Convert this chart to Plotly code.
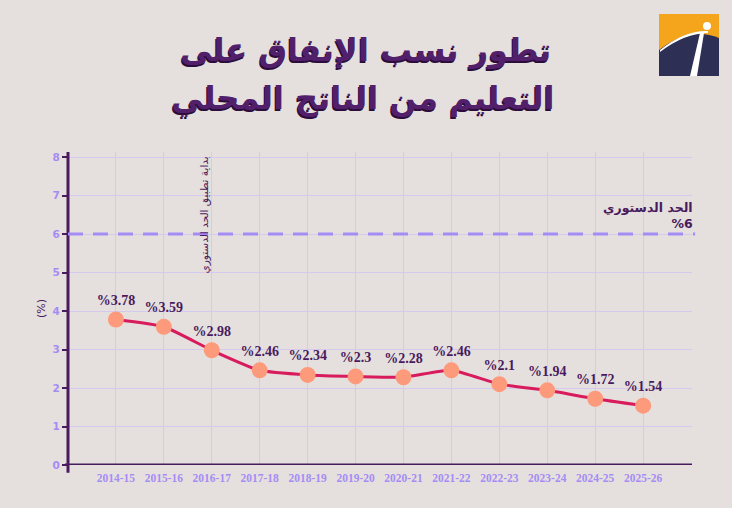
import plotly.graph_objects as go

years = ["2014-15", "2015-16", "2016-17", "2017-18", "2018-19", "2019-20",
         "2020-21", "2021-22", "2022-23", "2023-24", "2024-25", "2025-26"]
share = [3.78, 3.59, 2.98, 2.46, 2.34, 2.3, 2.28, 2.46, 2.1, 1.94, 1.72, 1.54]
limit_value = 6
y_ticks = [0, 1, 2, 3, 4, 5, 6, 7, 8]

title_line1 = "تطور نسب الإنفاق على"
title_line2 = "التعليم من الناتج المحلي"
limit_text = "الحد الدستوري<br>%6"
start_text = "بداية تطبيق الحد الدستوري"

BG = "#e5e0dd"
DARK = "#4a1a5e"
LAV = "#a58cf5"
GRID = "#d6c9f0"

labels = ["%" + ("%g" % v) for v in share]
idx = list(range(len(years)))

fig = go.Figure()
fig.add_trace(go.Scatter(
    x=idx, y=share, mode="lines+markers+text",
    line=dict(color="#d81b5c", width=3, shape="spline", smoothing=0.5),
    marker=dict(color="#fd9a7b", size=16),
    text=labels, textposition="top center",
    textfont=dict(family="Liberation Serif", size=14, color=DARK, weight="bold"),
    cliponaxis=False, hoverinfo="skip", showlegend=False,
))

fig.update_layout(
    width=732, height=508,
    paper_bgcolor=BG, plot_bgcolor=BG,
    margin=dict(l=68, r=40, t=152, b=43),
    font=dict(family="DejaVu Sans", color=DARK),
    xaxis=dict(
        range=[-1, 12.02], tickmode="array", tickvals=idx, ticktext=years,
        showgrid=True, gridcolor=GRID, gridwidth=1, zeroline=False,
        showline=False, ticks="", ticklabelstandoff=4,
        tickfont=dict(family="Liberation Serif", size=11.5, color=LAV, weight="bold"),
    ),
    yaxis=dict(
        range=[0, 8.13], tickmode="array", tickvals=y_ticks,
        showgrid=True, gridcolor=GRID, gridwidth=1, zeroline=False,
        showline=False, ticks="outside", ticklen=5, tickcolor=DARK, tickwidth=2,
        tickfont=dict(family="DejaVu Sans", size=10.5, color=LAV, weight="bold"),
        title=dict(text="(%)", font=dict(size=11, color=DARK), standoff=4),
    ),
)

# axis lines
fig.add_shape(type="line", xref="paper", yref="paper", x0=0, x1=0, y0=-0.025, y1=1,
              line=dict(color=DARK, width=3))
fig.add_shape(type="line", xref="paper", yref="y", x0=-0.005, x1=1, y0=0, y1=0,
              line=dict(color=DARK, width=3))

# constitutional limit line
fig.add_shape(type="line", xref="paper", yref="y", x0=0, x1=1.005,
              y0=limit_value, y1=limit_value,
              line=dict(color=LAV, width=3, dash="15px,10px"))
fig.add_annotation(xref="paper", yref="y", x=1.005, y=limit_value, xanchor="right",
                   yanchor="bottom", yshift=1, align="right", showarrow=False,
                   text=limit_text,
                   font=dict(family="DejaVu Sans", size=12.5, color=DARK, weight="bold"))

# start annotation
fig.add_annotation(x=2, y=6.5, xref="x", yref="y", xshift=-7, textangle=-90,
                   showarrow=False, text=start_text,
                   font=dict(family="DejaVu Sans", size=10.5, color=DARK))


def px(x):
    return (x - 68) / 624


def py(y):
    return (465 - y) / 313


# title (two lines placed separately)
title_font = dict(family="DejaVu Sans", size=32, color="#52206a", weight="bold",
                  shadow="-1px 2px 0px #2b0c3a")
fig.add_annotation(xref="paper", yref="paper", x=px(365), y=py(50),
                   xanchor="center", yanchor="middle", showarrow=False,
                   text=title_line1, font=title_font)
fig.add_annotation(xref="paper", yref="paper", x=px(362), y=py(98),
                   xanchor="center", yanchor="middle", showarrow=False,
                   text=title_line2, font=title_font)

# logo (decorative)
fig.add_shape(type="rect", xref="paper", yref="paper", x0=px(659), x1=px(719),
              y0=py(76), y1=py(14), fillcolor="#f4a51c", line=dict(width=0))
hill = (f"M {px(659)},{py(50)} Q {px(690)},{py(26)} {px(719)},{py(38)} "
        f"L {px(719)},{py(76)} L {px(659)},{py(76)} Z")
fig.add_shape(type="path", xref="paper", yref="paper", path=hill,
              fillcolor="#2e2f55", line=dict(width=0))
road = (f"M {px(690)},{py(76)} L {px(700)},{py(33)} L {px(704)},{py(33)} "
        f"L {px(697)},{py(76)} Z")
fig.add_shape(type="path", xref="paper", yref="paper", path=road,
              fillcolor="white", line=dict(width=0))
swoosh = (f"M {px(660)},{py(50)} Q {px(685)},{py(30)} {px(708)},{py(31)} "
          f"L {px(708)},{py(33)} Q {px(685)},{py(33)} {px(660)},{py(52)} Z")
fig.add_shape(type="path", xref="paper", yref="paper", path=swoosh,
              fillcolor="white", line=dict(width=0))
fig.add_shape(type="circle", xref="paper", yref="paper", x0=px(703), x1=px(711),
              y0=py(30), y1=py(22), fillcolor="white", line=dict(width=0))

fig.write_html("out.html",
               config={"displayModeBar": False},
               post_script="document.body.style.margin='0';"
                           "document.body.style.background='" + BG + "';")
